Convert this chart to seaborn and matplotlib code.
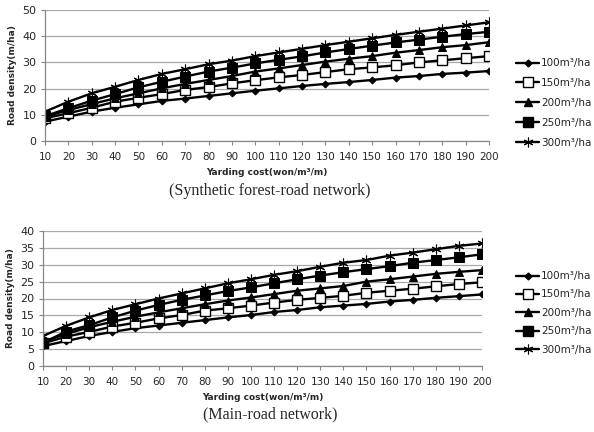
import matplotlib
matplotlib.use("Agg")
import matplotlib.pyplot as plt
import seaborn as sns
import pandas as pd
from matplotlib.lines import Line2D

cost = [10, 20, 30, 40, 50, 60, 70, 80, 90, 100, 110, 120, 130, 140, 150, 160, 170, 180, 190, 200]
series_names = ["100m³/ha", "150m³/ha", "200m³/ha", "250m³/ha", "300m³/ha"]

# Synthetic forest-road network
syn_100 = [7.4, 9.3, 11.2, 12.7, 14.0, 15.3, 16.2, 17.2, 18.2, 19.2, 20.1, 21.0, 21.8, 22.5, 23.3, 24.2, 24.8, 25.6, 26.1, 26.7]
syn_150 = [8.7, 10.6, 12.7, 15.0, 16.5, 17.9, 19.5, 20.6, 22.0, 23.2, 24.3, 25.2, 26.3, 27.4, 28.1, 28.9, 30.0, 30.8, 31.6, 32.4]
syn_200 = [9.3, 11.8, 14.1, 16.3, 18.2, 20.1, 21.8, 23.3, 24.8, 26.5, 27.7, 29.0, 30.3, 31.4, 32.4, 33.7, 34.7, 35.8, 36.6, 37.7]
syn_250 = [9.5, 12.5, 15.4, 17.9, 20.5, 22.6, 24.6, 26.5, 28.0, 29.6, 31.0, 32.3, 33.8, 35.1, 36.4, 37.6, 38.7, 39.8, 40.8, 41.7]
syn_300 = [11.2, 15.0, 18.2, 20.7, 23.3, 25.6, 27.4, 29.3, 30.7, 32.4, 33.8, 35.2, 36.6, 37.9, 39.2, 40.5, 41.7, 42.9, 44.1, 45.3]

# Main-road network
main_100 = [5.9, 7.4, 8.9, 10.1, 11.2, 12.0, 12.8, 13.6, 14.4, 15.1, 16.0, 16.6, 17.4, 17.9, 18.4, 19.1, 19.6, 20.2, 20.7, 21.2]
main_150 = [6.7, 8.7, 10.1, 11.7, 12.8, 14.1, 15.1, 16.4, 17.1, 17.9, 18.8, 19.6, 20.2, 20.8, 21.7, 22.3, 22.9, 23.6, 24.3, 24.8]
main_200 = [7.2, 9.5, 11.5, 13.1, 14.6, 15.9, 17.1, 18.3, 19.4, 20.3, 21.3, 22.3, 23.0, 23.7, 25.0, 25.7, 26.5, 27.3, 27.9, 28.4]
main_250 = [6.9, 10.2, 12.1, 14.4, 16.4, 18.1, 19.6, 20.9, 22.2, 23.3, 24.5, 25.7, 26.8, 27.8, 28.7, 29.6, 30.6, 31.4, 32.2, 33.1]
main_300 = [8.9, 11.9, 14.4, 16.6, 18.3, 20.0, 21.5, 23.0, 24.5, 25.7, 27.0, 28.1, 29.4, 30.6, 31.4, 32.7, 33.6, 34.6, 35.6, 36.3]

ylabel = "Road density(m/ha)"
xlabel = "Yarding cost(won/m³/m)"
captions = ["(Synthetic forest-road network)", "(Main-road network)"]

sns.set_style("white")
plt.rcParams["font.family"] = ["DejaVu Sans"]

styles = [
    dict(marker="D", markersize=3.5, markerfacecolor="black", markeredgecolor="black"),
    dict(marker="s", markersize=6.5, markerfacecolor="white", markeredgecolor="black", markeredgewidth=1),
    dict(marker="^", markersize=5.5, markerfacecolor="black", markeredgecolor="black"),
    dict(marker="s", markersize=6.5, markerfacecolor="black", markeredgecolor="black"),
    dict(marker=(6, 2, 0), markersize=7, markerfacecolor="none", markeredgecolor="black", markeredgewidth=0.8),
]

fig = plt.figure(figsize=(5.94, 4.32), dpi=100)
ax1 = fig.add_axes([45/594, 1-141/432, 444/594, 131/432])
ax2 = fig.add_axes([43/594, 1-366/432, 439/594, 135/432])

panels = [
    (ax1, [syn_100, syn_150, syn_200, syn_250, syn_300], 50, 10),
    (ax2, [main_100, main_150, main_200, main_250, main_300], 40, 5),
]

for ax, data, ymax, ystep in panels:
    handles = []
    for name, vals, st in zip(series_names, data, styles):
        df = pd.DataFrame({"cost": cost, "density": vals})
        sns.lineplot(data=df, x="cost", y="density", ax=ax, color="black", linewidth=1.7, **st)
        handles.append(Line2D([0], [0], color="black", linewidth=1.7, **st))
    ax.set_xlim(10, 200)
    ax.set_ylim(0, ymax)
    ax.set_xticks(cost)
    ax.set_yticks(range(0, ymax + 1, ystep))
    ax.tick_params(axis="x", labelsize=7.5, length=3, color="#888888", direction="out", bottom=True, pad=5)
    ax.tick_params(axis="y", labelsize=8, length=3, color="#888888", direction="out", left=True, pad=3)
    ax.grid(axis="y", color="#a8a8a8", linewidth=0.9)
    ax.grid(axis="x", visible=False)
    for s in ["top", "right"]:
        ax.spines[s].set_visible(False)
    for s in ["left", "bottom"]:
        ax.spines[s].set_color("#888888")
        ax.spines[s].set_linewidth(0.9)
    ax.set_ylabel(ylabel, fontsize=6.5, fontweight="bold", labelpad=4)
    ax.set_xlabel(xlabel, fontsize=6.5, fontweight="bold", labelpad=4)
    ax.panel_handles = handles

fig.legend(ax1.panel_handles, series_names, loc="upper left", bbox_to_anchor=(512/594, 1-54/432),
           frameon=False, fontsize=7.5, handlelength=2.2, labelspacing=0.95, handletextpad=0.2, borderaxespad=0)
fig.legend(ax2.panel_handles, series_names, loc="upper left", bbox_to_anchor=(512/594, 1-267/432),
           frameon=False, fontsize=7.5, handlelength=2.2, labelspacing=0.8, handletextpad=0.2, borderaxespad=0)

fig.text(270/594, 1-191/432, captions[0], ha="center", va="center", fontsize=11.5, family="Liberation Serif")
fig.text(270/594, 1-414/432, captions[1], ha="center", va="center", fontsize=11.5, family="Liberation Serif")

fig.savefig("out.png", dpi=100)
